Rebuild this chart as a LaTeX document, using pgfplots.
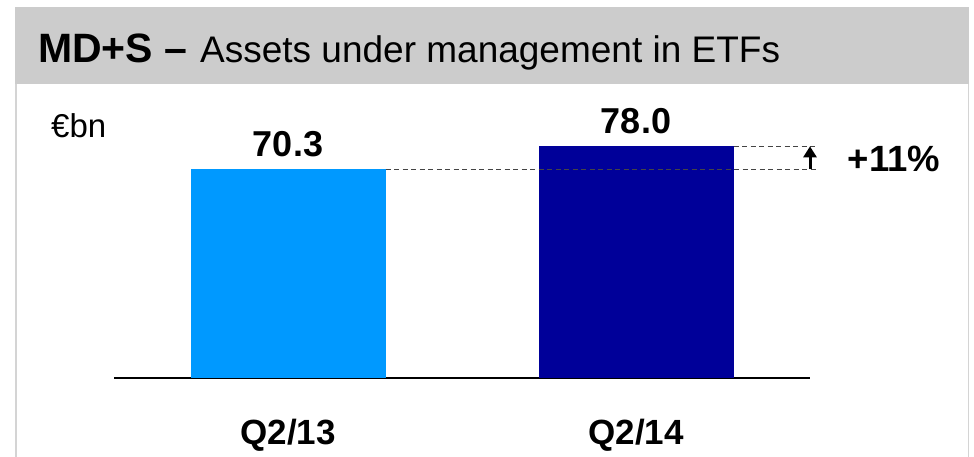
\documentclass[border=0pt]{standalone}
\usepackage{fontspec}
\setmainfont{Liberation Sans}
\usepackage{pgfplots}
\pgfplotsset{compat=1.18}
\usetikzlibrary{arrows.meta}
\definecolor{lightblue}{HTML}{0099FF}
\definecolor{navy}{HTML}{000099}
\definecolor{band}{HTML}{CCCCCC}
\definecolor{framec}{HTML}{D4D4D4}
\definecolor{dashc}{HTML}{444444}
\begin{document}
\begin{tikzpicture}
\path[use as bounding box] (0pt,0pt) rectangle (974pt,457pt);
\fill[band] (15pt,373pt) rectangle (969pt,450pt);
\draw[framec, line width=1.2pt] (16pt,0pt) -- (16pt,373pt);
\draw[framec, line width=1.2pt] (968.5pt,0pt) -- (968.5pt,373pt);
\node[anchor=base west, inner sep=0pt] at (38pt,394pt) {\fontsize{41}{49}\selectfont\bfseries MD+S –};
\node[anchor=base west, inner sep=0pt] at (200pt,394pt) {\fontsize{37}{44}\selectfont Assets under management in ETFs};
\node[anchor=base west, inner sep=0pt] at (51pt,319pt) {\fontsize{33}{40}\selectfont €bn};
\node[anchor=base, inner sep=0pt] at (894pt,285pt) {\fontsize{36.5}{43}\selectfont\bfseries +11\%};
\begin{axis}[
  at={(114pt,79pt)}, anchor=south west,
  scale only axis, width=696pt, height=267.3pt,
  xmin=-0.5, xmax=1.5, ymin=0, ymax=90,
  clip=false,
  axis y line=none,
  axis x line=bottom,
  x axis line style={-, line width=2pt, black},
  ytick=\empty,
  xtick={0,1}, xticklabels={Q2/13,Q2/14},
  major tick length=0pt,
  xticklabel style={font=\fontsize{35}{42}\selectfont\bfseries, anchor=base, inner sep=0pt, yshift=-67pt},
  ybar, bar width=195pt,
  nodes near coords={\pgfmathprintnumber[fixed,fixed zerofill,precision=1,assume math mode=true]{\pgfplotspointmeta}},
  every node near coord/.append style={font=\fontsize{36}{43}\selectfont\bfseries, anchor=base, inner sep=0pt, yshift=13pt},
]
\addplot[fill=lightblue, draw=none, bar shift=0pt] coordinates {(0,70.3)};
\addplot[fill=navy, draw=none, bar shift=0pt] coordinates {(1,78.0)};
\draw[dashc, line width=1.2pt, dash pattern=on 5pt off 3.5pt] ([xshift=97.5pt]axis cs:0,70.3) -- (axis cs:1.523,70.3);
\draw[dashc, line width=1.2pt, dash pattern=on 5pt off 3.5pt] ([xshift=97.5pt]axis cs:1,78.0) -- (axis cs:1.523,78.0);
\draw[-{Triangle[length=11pt,width=13pt]}, line width=3pt, black] (axis cs:1.5,70.3) -- (axis cs:1.5,78.0);
\end{axis}
\end{tikzpicture}
\end{document}
